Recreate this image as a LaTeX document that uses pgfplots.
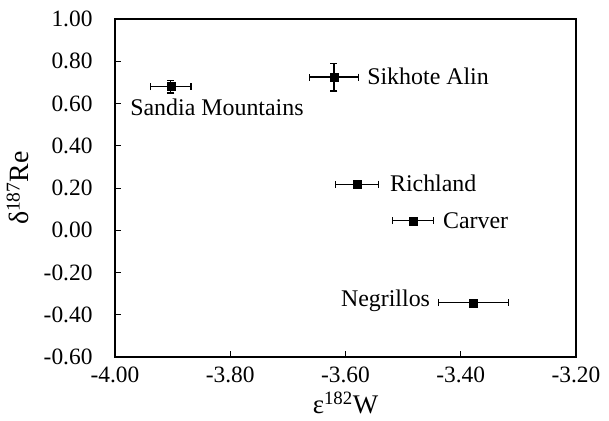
\documentclass[border=0pt]{standalone}
\usepackage{fontspec}
\setmainfont{Liberation Serif}
\usepackage{pgfplots}
\pgfplotsset{compat=1.18}
\begin{document}
\begin{tikzpicture}[x=1bp,y=1bp]
\useasboundingbox (-115bp,-64bp) rectangle (494bp,357bp);
\begin{axis}[
  at={(0,0)}, anchor=south west,
  scale only axis, width=461bp, height=338bp,
  xmin=-4, xmax=-3.2, ymin=-0.6, ymax=1.0,
  xtick={-4,-3.8,-3.6,-3.4,-3.2},
  xticklabels={-4.00,-3.80,-3.60,-3.40,-3.20},
  ytick={-0.6,-0.4,-0.2,0,0.2,0.4,0.6,0.8,1.0},
  yticklabels={-0.60,-0.40,-0.20,0.00,0.20,0.40,0.60,0.80,1.00},
  tick align=inside, xtick pos=bottom, ytick pos=left,
  major tick length=6bp,
  tick style={black, line width=1bp},
  axis line style={line width=1.4bp},
  ticklabel style={font=\fontsize{23.5}{27}\selectfont},
  xticklabel style={yshift=-9bp, inner sep=1bp},
  yticklabel style={xshift=-19bp},
  xlabel={ε\textsuperscript{182}W},
  ylabel={δ\textsuperscript{187}Re},
  label style={font=\fontsize{28}{32}\selectfont},
  xlabel style={at={(axis description cs:0.5,0)}, anchor=base, yshift=-56bp, inner sep=0pt, font=\fontsize{27}{31}\selectfont},
  ylabel style={yshift=8bp},
  clip=false,
]
\addplot[black, only marks, mark=square*, mark size=4bp,
  error bars/.cd, x dir=both, x explicit, y dir=both, y explicit,
  error bar style={line width=1.2bp},
  error mark options={rotate=90, line width=1.2bp, mark size=3.5bp}]
  table[x=x, y=y, x error=ex, y error=ey] {
x y ex ey
-3.903 0.680 0.035 0.030
-3.620 0.725 0.042 0.066
-3.580 0.218 0.037 0.008
-3.483 0.045 0.036 0.008
-3.378 -0.343 0.061 0.012
};
\node[anchor=center, inner sep=0, font=\fontsize{24}{28}\selectfont] at (axis cs:-3.823,0.583) {Sandia Mountains};
\node[anchor=west, inner sep=0, font=\fontsize{24}{28}\selectfont] at (axis cs:-3.5625,0.728) {Sikhote Alin};
\node[anchor=west, inner sep=0, font=\fontsize{24}{28}\selectfont] at (axis cs:-3.523,0.22) {Richland};
\node[anchor=west, inner sep=0, font=\fontsize{24}{28}\selectfont] at (axis cs:-3.431,0.045) {Carver};
\node[anchor=east, inner sep=0, font=\fontsize{24}{28}\selectfont] at (axis cs:-3.453,-0.335) {Negrillos};
\end{axis}
\end{tikzpicture}
\end{document}
